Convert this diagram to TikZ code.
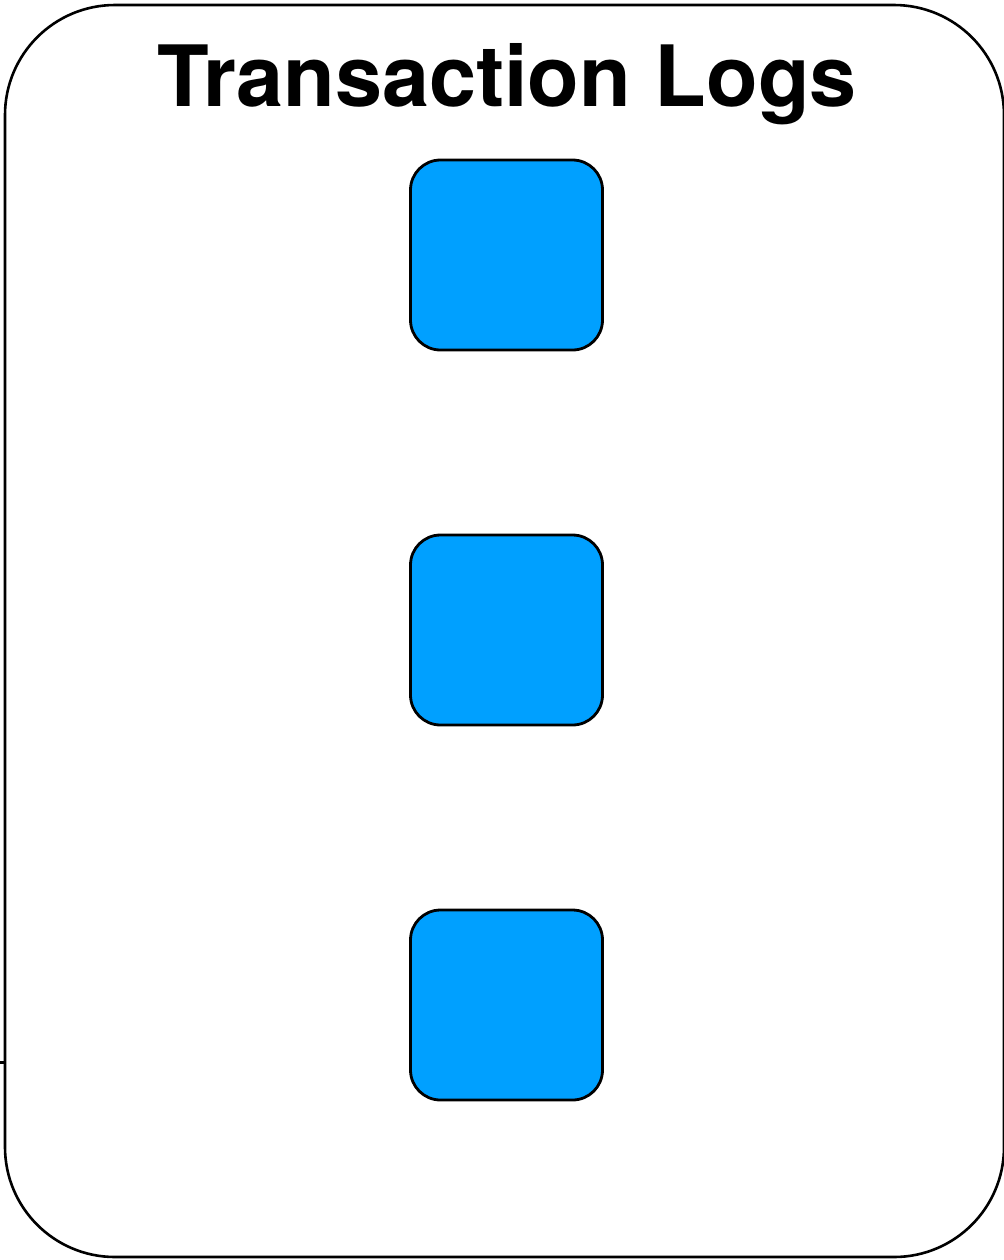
\documentclass[tikz,border=0pt]{standalone}
\usepackage{fontspec}
\setmainfont{TeX Gyre Heros}
\definecolor{logblue}{RGB}{0,160,255}
\begin{document}
\begin{tikzpicture}[x=0.5pt,y=-0.5pt,
  frame/.style={draw=black,line width=1.3pt,rounded corners=55pt},
  logbox/.style={draw=black,line width=1.4pt,fill=logblue,rounded corners=15pt,minimum width=96pt,minimum height=95pt,inner sep=0pt},
  title/.style={font=\bfseries\fontsize{42.3pt}{48pt}\selectfont,inner sep=0pt,anchor=base}]
\useasboundingbox (0,0) rectangle (1004,1260);
\draw[frame] (5,5) rectangle (1004,1257);
\coordinate (tickA) at (0,1062);
\coordinate (tickB) at (6,1062);
\draw[line width=1.5pt] (tickA) -- (tickB);
\node[title] (t) at (507,106) {Transaction Logs};
\node[logbox] (b1) at (506.5,255) {};
\node[logbox] (b2) at (506.5,630) {};
\node[logbox] (b3) at (506.5,1005) {};
\end{tikzpicture}
\end{document}
